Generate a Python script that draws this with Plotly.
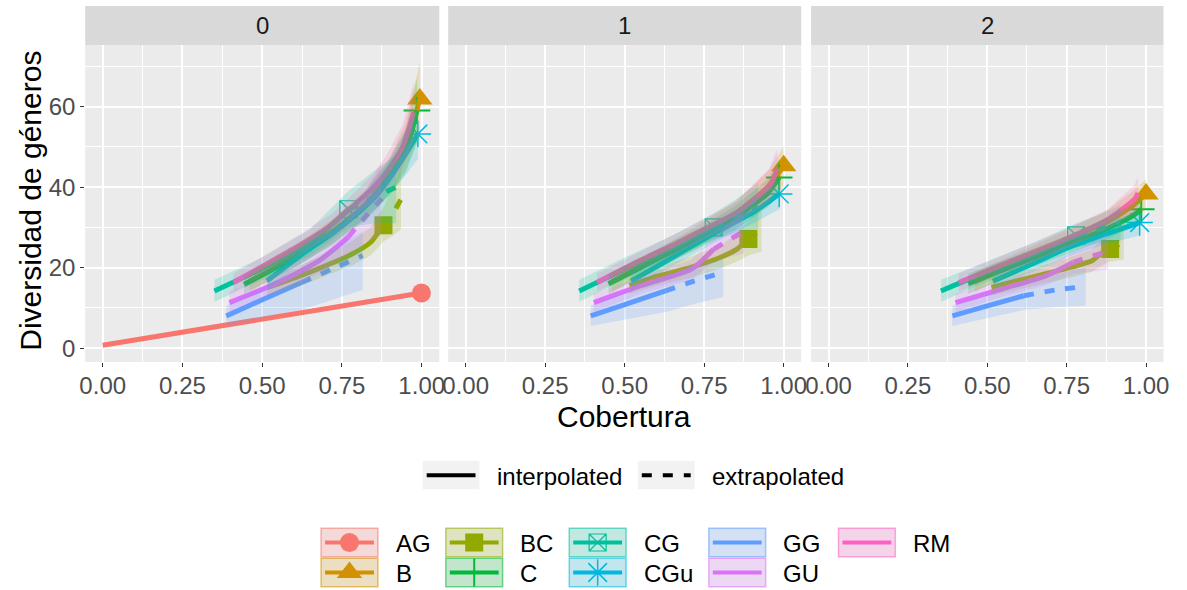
import plotly.graph_objects as go

W, H = 1187, 590
FONT = "Liberation Sans, Arial, sans-serif"

# ---------------- data ----------------
ORDERS = ["0", "1", "2"]
GROUPS = ["AG", "B", "BC", "C", "CG", "CGu", "GG", "GU", "RM"]
X_TICKS = [0.0, 0.25, 0.5, 0.75, 1.0]
X_TICK_LABELS = ["0.00", "0.25", "0.50", "0.75", "1.00"]
Y_TICKS = [0, 20, 40, 60]
METHOD_LABELS = ["interpolated", "extrapolated"]

# per group, per order q: coverage, diversity, ribbon lower/upper, index of observed point
AG = {
    "0": dict(cov=[0.0, 0.999], div=[0.7, 13.7], lo=[0.7, 13.7], hi=[0.7, 13.7], obs=1),
}
B = {
    "0": dict(cov=[0.46, 0.60, 0.72, 0.82, 0.90, 0.95, 0.994],
              div=[16.5, 22.8, 29.0, 35.5, 43.0, 50.0, 61.9],
              lo=[14.0, 20.0, 26.0, 32.0, 38.5, 44.5, 53.0],
              hi=[19.0, 25.5, 32.0, 39.0, 47.5, 56.0, 71.0], obs=6),
    "1": dict(cov=[0.46, 0.60, 0.72, 0.85, 0.95, 1.0],
              div=[16.5, 22.3, 27.2, 33.5, 40.0, 45.3],
              lo=[14.0, 20.0, 24.5, 30.5, 36.0, 40.0],
              hi=[19.0, 24.5, 30.0, 36.5, 44.0, 50.0], obs=5),
    "2": dict(cov=[0.46, 0.60, 0.75, 0.88, 0.96, 1.0],
              div=[16.5, 21.5, 26.8, 31.5, 35.5, 38.3],
              lo=[14.0, 19.3, 24.5, 29.0, 32.5, 34.5],
              hi=[19.0, 23.8, 29.3, 34.3, 39.0, 42.0], obs=5),
}
BC = {
    "0": dict(cov=[0.515, 0.62, 0.70, 0.78, 0.84, 0.864, 0.88, 0.91, 0.935],
              div=[15.0, 18.0, 20.5, 23.3, 26.3, 28.8, 30.5, 33.5, 37.0],
              lo=[13.0, 15.5, 18.0, 20.5, 23.0, 25.0, 26.5, 28.0, 29.5],
              hi=[17.0, 20.5, 23.5, 26.5, 30.0, 33.0, 35.0, 40.0, 45.0], obs=6),
    "1": dict(cov=[0.515, 0.60, 0.71, 0.80, 0.853, 0.889, 0.93],
              div=[15.5, 17.8, 20.1, 22.5, 24.6, 27.1, 29.5],
              lo=[13.5, 15.5, 17.5, 19.8, 21.5, 23.0, 24.0],
              hi=[17.5, 20.0, 22.8, 25.5, 28.5, 31.5, 36.0], obs=5),
    "2": dict(cov=[0.513, 0.65, 0.75, 0.83, 0.86, 0.887, 0.93],
              div=[15.1, 17.8, 19.8, 21.7, 23.6, 24.6, 26.5],
              lo=[13.0, 15.5, 17.3, 19.0, 20.5, 21.5, 22.0],
              hi=[17.3, 20.0, 22.3, 24.5, 26.8, 28.0, 31.5], obs=5),
}
C = {
    "0": dict(cov=[0.443, 0.60, 0.72, 0.82, 0.90, 0.95, 0.985],
              div=[15.8, 22.5, 28.5, 35.0, 42.5, 49.0, 59.0],
              lo=[13.5, 20.0, 25.5, 31.5, 38.0, 43.5, 51.0],
              hi=[18.0, 25.0, 31.5, 38.5, 47.0, 54.5, 67.0], obs=6),
    "1": dict(cov=[0.449, 0.60, 0.75, 0.85, 0.95, 0.986],
              div=[16.0, 22.0, 28.0, 32.5, 38.5, 42.4],
              lo=[13.5, 19.5, 25.5, 29.5, 35.0, 38.0],
              hi=[18.5, 24.5, 30.5, 35.5, 42.0, 47.0], obs=5),
    "2": dict(cov=[0.44, 0.60, 0.75, 0.88, 0.96, 0.985],
              div=[16.0, 21.0, 25.7, 29.8, 33.0, 34.5],
              lo=[13.5, 18.7, 23.3, 27.3, 30.0, 31.0],
              hi=[18.5, 23.3, 28.0, 32.5, 36.0, 38.0], obs=5),
}
CG = {
    "0": dict(cov=[0.35, 0.50, 0.65, 0.77, 0.85, 0.92],
              div=[14.2, 19.8, 26.2, 34.5, 37.5, 40.0],
              lo=[11.5, 17.0, 23.0, 30.0, 31.0, 31.0],
              hi=[17.0, 22.5, 29.5, 39.0, 44.0, 48.0], obs=3),
    "1": dict(cov=[0.357, 0.50, 0.65, 0.78, 0.85, 0.92],
              div=[14.2, 19.6, 25.0, 30.0, 32.5, 35.0],
              lo=[11.5, 17.0, 22.5, 27.0, 28.5, 29.5],
              hi=[17.0, 22.5, 28.0, 33.5, 37.0, 41.0], obs=3),
    "2": dict(cov=[0.354, 0.50, 0.65, 0.78, 0.85, 0.92],
              div=[14.2, 19.0, 23.6, 28.0, 29.5, 31.0],
              lo=[11.5, 16.5, 21.0, 25.0, 26.0, 26.5],
              hi=[17.0, 21.5, 26.3, 31.0, 33.0, 35.5], obs=3),
}
CGu = {
    "0": dict(cov=[0.515, 0.634, 0.72, 0.787, 0.85, 0.89, 0.94, 0.988],
              div=[16.7, 23.8, 28.6, 32.9, 37.2, 41.2, 47.0, 53.2],
              lo=[14.5, 21.5, 26.0, 30.0, 34.0, 37.5, 42.0, 47.0],
              hi=[19.0, 26.0, 31.0, 36.0, 41.0, 45.5, 52.5, 60.0], obs=7),
    "1": dict(cov=[0.52, 0.65, 0.75, 0.85, 0.904, 0.986],
              div=[16.6, 22.5, 27.1, 31.5, 33.7, 38.3],
              lo=[14.5, 20.3, 24.8, 29.0, 31.0, 34.5],
              hi=[19.0, 24.8, 29.5, 34.0, 36.5, 42.0], obs=5),
    "2": dict(cov=[0.518, 0.65, 0.75, 0.88, 0.98],
              div=[16.6, 21.2, 24.8, 28.5, 31.2],
              lo=[14.5, 19.2, 22.6, 26.0, 28.0],
              hi=[18.8, 23.3, 27.0, 31.0, 34.5], obs=4),
}
GG = {
    "0": dict(cov=[0.387, 0.50, 0.623, 0.72, 0.815],
              div=[8.0, 12.0, 16.3, 19.7, 23.0],
              lo=[5.5, 7.5, 9.5, 12.0, 14.5],
              hi=[10.5, 15.0, 20.5, 25.0, 29.0], obs=2),
    "1": dict(cov=[0.393, 0.50, 0.628, 0.72, 0.81],
              div=[8.0, 10.8, 14.2, 16.7, 18.8],
              lo=[5.5, 7.0, 9.0, 11.0, 12.7],
              hi=[10.5, 14.0, 18.0, 20.5, 22.0], obs=2),
    "2": dict(cov=[0.39, 0.50, 0.615, 0.72, 0.81],
              div=[8.0, 10.5, 13.0, 14.5, 15.3],
              lo=[5.5, 7.5, 9.5, 10.2, 10.5],
              hi=[10.5, 13.5, 16.5, 18.5, 20.0], obs=2),
}
GU = {
    "0": dict(cov=[0.397, 0.55, 0.68, 0.77, 0.82, 0.875],
              div=[11.3, 16.3, 21.8, 27.6, 32.3, 37.2],
              lo=[9.0, 14.0, 18.5, 23.5, 26.0, 28.0],
              hi=[14.0, 19.0, 25.0, 32.0, 38.5, 46.0], obs=3),
    "1": dict(cov=[0.403, 0.55, 0.71, 0.78, 0.82, 0.875],
              div=[11.3, 15.5, 19.6, 24.6, 26.5, 29.0],
              lo=[9.0, 13.5, 17.0, 21.5, 22.5, 23.5],
              hi=[13.5, 17.8, 22.0, 27.5, 30.5, 34.0], obs=3),
    "2": dict(cov=[0.40, 0.55, 0.68, 0.77, 0.82, 0.88],
              div=[11.3, 14.8, 17.8, 21.3, 22.6, 24.0],
              lo=[9.0, 12.8, 15.5, 18.5, 19.0, 19.5],
              hi=[13.5, 17.0, 20.3, 24.0, 26.0, 28.5], obs=3),
}
RM = {
    "0": dict(cov=[0.41, 0.55, 0.634, 0.72, 0.787, 0.85, 0.89, 0.94, 0.975],
              div=[16.3, 22.5, 26.3, 30.8, 35.4, 40.0, 43.7, 50.0, 58.6],
              lo=[14.0, 20.0, 24.0, 28.0, 32.5, 36.5, 39.5, 45.0, 51.5],
              hi=[18.5, 25.0, 29.0, 33.5, 38.5, 43.5, 48.0, 55.5, 66.0], obs=8),
    "1": dict(cov=[0.413, 0.55, 0.648, 0.75, 0.853, 0.955, 0.98],
              div=[16.3, 21.8, 25.4, 29.5, 33.7, 40.3, 44.5],
              lo=[14.0, 19.5, 23.0, 27.0, 31.0, 36.5, 40.0],
              hi=[18.5, 24.0, 28.0, 32.0, 36.5, 44.5, 49.5], obs=6),
    "2": dict(cov=[0.41, 0.55, 0.749, 0.88, 0.964, 0.975],
              div=[16.3, 20.8, 27.1, 32.0, 37.0, 38.5],
              lo=[14.0, 18.5, 24.8, 29.5, 33.5, 34.5],
              hi=[18.5, 23.0, 29.5, 34.5, 40.5, 42.5], obs=5),
}
DATA = {"AG": AG, "B": B, "BC": BC, "C": C, "CG": CG, "CGu": CGu, "GG": GG, "GU": GU, "RM": RM}

# ---------------- styles ----------------
COLORS = {"AG": "#F8766D", "B": "#D39200", "BC": "#93AA00", "C": "#00BA38", "CG": "#00C19F",
          "CGu": "#00B9E3", "GG": "#619CFF", "GU": "#DB72FB", "RM": "#FF61C3"}
SYMBOLS = {"AG": ("circle", 19, 0), "B": ("triangle-up", 22, 0), "BC": ("square", 18, 0),
           "C": ("cross-thin-open", 19, 2), "CG": ("square-x-open", 17, 1.2),
           "CGu": ("asterisk-open", 22, 1.5)}
LINE_W = 5
DASH = "10px,11px"

PANEL_X = [(80, 437.7), (446.7, 803.3), (813.3, 1169.3)]
PANEL_Y = (45, 362)
STRIP_Y = (6, 45)


def rgba(hx, a):
    hx = hx.lstrip("#")
    r, g, b = int(hx[0:2], 16), int(hx[2:4], 16), int(hx[4:6], 16)
    return f"rgba({r},{g},{b},{a})"


def fx(px):
    return px / W


def fy(py):
    return 1 - py / H


fig = go.Figure()

for i, q in enumerate(ORDERS):
    xa = "x" if i == 0 else f"x{i + 1}"
    ya = "y" if i == 0 else f"y{i + 1}"
    # observed points
    for g in GROUPS:
        d = DATA[g].get(q)
        if d is None or g not in SYMBOLS:
            continue
        sym, size, lw = SYMBOLS[g]
        fig.add_trace(go.Scatter(
            x=[d["cov"][d["obs"]]], y=[d["div"][d["obs"]]], mode="markers",
            marker=dict(symbol=sym, size=size, color=COLORS[g],
                        line=dict(width=lw, color=COLORS[g])),
            xaxis=xa, yaxis=ya, showlegend=False, hoverinfo="skip"))
    # lines
    for g in GROUPS:
        d = DATA[g].get(q)
        if d is None:
            continue
        o = d["obs"]
        fig.add_trace(go.Scatter(
            x=d["cov"][:o + 1], y=d["div"][:o + 1], mode="lines",
            line=dict(color=COLORS[g], width=LINE_W, shape="spline", smoothing=0.6),
            xaxis=xa, yaxis=ya, showlegend=False, hoverinfo="skip"))
        if len(d["cov"]) - o > 1:
            fig.add_trace(go.Scatter(
                x=d["cov"][o:], y=d["div"][o:], mode="lines",
                line=dict(color=COLORS[g], width=LINE_W, dash=DASH, shape="spline", smoothing=0.6),
                xaxis=xa, yaxis=ya, showlegend=False, hoverinfo="skip"))
    # ribbons
    for g in GROUPS:
        d = DATA[g].get(q)
        if d is None or d["lo"] == d["hi"]:
            continue
        fig.add_trace(go.Scatter(
            x=d["cov"] + d["cov"][::-1], y=d["hi"] + d["lo"][::-1], mode="lines",
            fill="toself", fillcolor=rgba(COLORS[g], 0.2), line=dict(width=0),
            xaxis=xa, yaxis=ya, showlegend=False, hoverinfo="skip"))

# ---------------- legend (drawn on a hidden pixel axis) ----------------
LEG_TOP = 450
leg_x, leg_y = "x4", "y4"
shapes = []
annotations = []

# linetype legend
LT_BOX = [(421.0, 478.3), (638.3, 695.7)]
LT_TEXT_X = [494.0, 711.0]
LT_Y = (461.0, 489.3)
for k, lab in enumerate(METHOD_LABELS):
    x0, x1 = LT_BOX[k]
    shapes.append(dict(type="rect", xref=leg_x, yref=leg_y, x0=x0, x1=x1, y0=LT_Y[0], y1=LT_Y[1],
                       fillcolor="#F2F2F2", line=dict(width=0), layer="below"))
    fig.add_trace(go.Scatter(
        x=[x0 + 4, x1 - 4], y=[(LT_Y[0] + LT_Y[1]) / 2] * 2, mode="lines",
        line=dict(color="black", width=4, dash="solid" if k == 0 else DASH),
        xaxis=leg_x, yaxis=leg_y, showlegend=False, hoverinfo="skip"))
    annotations.append(dict(x=fx(LT_TEXT_X[k]), y=fy(476.5), xref="paper", yref="paper",
                            text=lab, showarrow=False, xanchor="left", yanchor="middle",
                            font=dict(family=FONT, size=24, color="black")))

# colour legend
COL_X = [318.3, 444.3, 569.0, 710.0, 841.0]
ROW_Y = [(528.3, 556.7), (558.3, 586.7)]
BOX_W = 57.4
for idx, g in enumerate(GROUPS):
    c, r = idx // 2, idx % 2
    x0 = COL_X[c]
    y0, y1 = ROW_Y[r]
    yc = (y0 + y1) / 2
    shapes.append(dict(type="rect", xref=leg_x, yref=leg_y, x0=x0, x1=x0 + BOX_W, y0=y0, y1=y1,
                       fillcolor="#F2F2F2", line=dict(width=0), layer="below"))
    fig.add_trace(go.Scatter(
        x=[x0 + 4, x0 + BOX_W - 4], y=[yc, yc], mode="lines",
        line=dict(color=COLORS[g], width=4),
        xaxis=leg_x, yaxis=leg_y, showlegend=False, hoverinfo="skip"))
    if g in SYMBOLS:
        sym, size, lw = SYMBOLS[g]
        if g == "C":
            size = 20
        fig.add_trace(go.Scatter(
            x=[x0 + BOX_W / 2], y=[yc], mode="markers",
            marker=dict(symbol=sym, size=size, color=COLORS[g], line=dict(width=lw, color=COLORS[g])),
            xaxis=leg_x, yaxis=leg_y, showlegend=False, hoverinfo="skip"))
    shapes.append(dict(type="rect", xref=leg_x, yref=leg_y, x0=x0, x1=x0 + BOX_W, y0=y0, y1=y1,
                       fillcolor=rgba(COLORS[g], 0.2), line=dict(width=1.5, color=rgba(COLORS[g], 0.55)),
                       layer="above"))
    annotations.append(dict(x=fx(x0 + 73.4), y=fy(yc + 0.5), xref="paper", yref="paper",
                            text=g, showarrow=False, xanchor="left", yanchor="middle",
                            font=dict(family=FONT, size=24, color="black")))

# white background for legend area
shapes.append(dict(type="rect", xref="paper", yref="paper", x0=0, x1=1, y0=0, y1=fy(LEG_TOP),
                   fillcolor="white", line=dict(width=0), layer="below"))

# strips
for i, q in enumerate(ORDERS):
    x0, x1 = PANEL_X[i]
    shapes.append(dict(type="rect", xref="paper", yref="paper", x0=fx(x0), x1=fx(x1),
                       y0=fy(STRIP_Y[1]), y1=fy(STRIP_Y[0]), fillcolor="#D9D9D9",
                       line=dict(width=0), layer="below"))
    annotations.append(dict(x=fx((x0 + x1) / 2), y=fy((STRIP_Y[0] + STRIP_Y[1]) / 2 + 0.5),
                            xref="paper", yref="paper", text=q, showarrow=False,
                            xanchor="center", yanchor="middle",
                            font=dict(family=FONT, size=24, color="#1A1A1A")))

# axis titles
annotations.append(dict(x=fx(624.7), y=fy(416), xref="paper", yref="paper", text="Cobertura",
                        showarrow=False, xanchor="center", yanchor="middle",
                        font=dict(family=FONT, size=30, color="black")))
annotations.append(dict(x=fx(24), y=fy(201), xref="paper", yref="paper",
                        text="Diversidad de géneros", textangle=-90, showarrow=False,
                        xanchor="center", yanchor="middle",
                        font=dict(family=FONT, size=30, color="black")))

layout = dict(
    width=W, height=H, margin=dict(l=0, r=0, t=0, b=0),
    paper_bgcolor="white", plot_bgcolor="#EBEBEB",
    shapes=shapes, annotations=annotations, showlegend=False,
)
for i in range(3):
    sfx = "" if i == 0 else str(i + 1)
    x0, x1 = PANEL_X[i]
    layout["xaxis" + sfx] = dict(
        domain=[fx(x0), fx(x1)], range=[-0.055, 1.055], anchor="y" + sfx,
        tickvals=X_TICKS, ticktext=X_TICK_LABELS, ticks="outside", ticklen=4, tickwidth=1.1,
        tickcolor="#333333", tickfont=dict(family=FONT, size=24, color="#4D4D4D"),
        ticklabelstandoff=-2,
        showgrid=True, gridcolor="white", gridwidth=2, zeroline=False, showline=False,
        minor=dict(tickvals=[0.125, 0.375, 0.625, 0.875], showgrid=True, gridcolor="white",
                   gridwidth=1, ticks=""),
    )
    layout["yaxis" + sfx] = dict(
        domain=[fy(PANEL_Y[1]), fy(PANEL_Y[0])], range=[-3.45, 75.3], anchor="x" + sfx,
        tickvals=Y_TICKS, ticks="outside" if i == 0 else "", ticklen=4, tickwidth=1.1,
        tickcolor="#333333", showticklabels=(i == 0),
        tickfont=dict(family=FONT, size=24, color="#4D4D4D"),
        showgrid=True, gridcolor="white", gridwidth=2, zeroline=False, showline=False,
        minor=dict(tickvals=[10, 30, 50, 70], showgrid=True, gridcolor="white", gridwidth=1, ticks=""),
    )
layout["xaxis4"] = dict(domain=[0, 1], range=[0, W], visible=False, anchor="y4", fixedrange=True)
layout["yaxis4"] = dict(domain=[0, fy(LEG_TOP)], range=[H, LEG_TOP], visible=False, anchor="x4",
                        fixedrange=True)

fig.update_layout(**layout)
fig.write_html("out.html", config={"displayModeBar": False},
               post_script="document.body.style.margin='0';document.body.style.overflow='hidden';")
